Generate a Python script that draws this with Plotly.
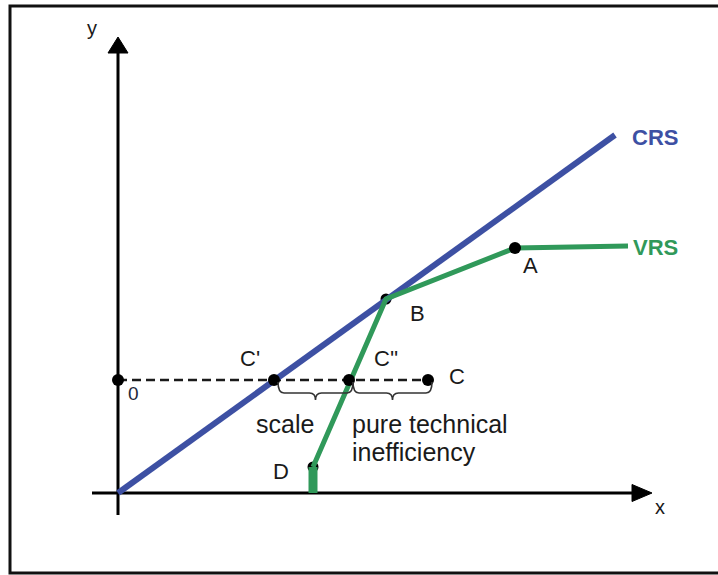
import plotly.graph_objects as go

# ---- data (conceptual units, origin at 0,0) ----
x_axis_span = [-2.6, 53.4]
y_axis_span = [-2.2, 45.6]

crs_x = [0.0, 49.7]
crs_y = [0.0, 35.8]

vrs_x = [19.5, 26.8, 39.7, 51.0]
vrs_y = [2.6, 19.4, 24.5, 24.7]

d_bar_x = [19.5, 19.5]
d_bar_y = [2.6, 0.0]

level_y = 11.3
level_names = ["0", "C'", "C''", "C"]
level_x = [0.0, 15.6, 23.1, 31.0]

frontier_names = ["A", "B", "D"]
frontier_x = [39.7, 26.8, 19.5]
frontier_y = [24.5, 19.4, 2.6]

BLUE = "#3d50a3"
GREEN = "#30995a"
INK = "#1a1a1a"
FONT = "Liberation Sans, Arial, sans-serif"

fig = go.Figure()

# dashed line from y-axis through C', C'' to C
fig.add_trace(go.Scatter(x=[level_x[0], level_x[-1]], y=[level_y, level_y], mode="lines",
                         line=dict(color=INK, width=2.5, dash="9px,5px"), hoverinfo="skip"))
# B and D dots (under lines)
fig.add_trace(go.Scatter(x=frontier_x[1:], y=frontier_y[1:], mode="markers",
                         marker=dict(color="black", size=11), hoverinfo="skip"))
# CRS
fig.add_trace(go.Scatter(x=crs_x, y=crs_y, mode="lines",
                         line=dict(color=BLUE, width=6), hoverinfo="skip"))
# VRS
fig.add_trace(go.Scatter(x=vrs_x, y=vrs_y, mode="lines",
                         line=dict(color=GREEN, width=5), hoverinfo="skip"))
fig.add_trace(go.Scatter(x=d_bar_x, y=d_bar_y, mode="lines",
                         line=dict(color=GREEN, width=9), hoverinfo="skip"))
# dots on top
fig.add_trace(go.Scatter(x=level_x, y=[level_y] * len(level_x), mode="markers",
                         marker=dict(color="black", size=12), hoverinfo="skip"))
fig.add_trace(go.Scatter(x=[frontier_x[0]], y=[frontier_y[0]], mode="markers",
                         marker=dict(color="black", size=12), hoverinfo="skip"))

shapes = []
# border
shapes.append(dict(type="rect", xref="paper", yref="paper", x0=10 / 718, x1=1.02,
                   y0=1 - 573 / 575, y1=1 - 6 / 575, line=dict(color="#111", width=3),
                   layer="below"))
# axes
shapes.append(dict(type="line", xref="x", yref="y", x0=x_axis_span[0], x1=x_axis_span[1] - 1.5,
                   y0=0, y1=0, line=dict(color="black", width=3), layer="below"))
shapes.append(dict(type="line", xref="x", yref="y", x0=0, x1=0,
                   y0=y_axis_span[0], y1=y_axis_span[1] - 1.2, line=dict(color="black", width=3),
                   layer="below"))
# arrow heads (pixel-sized, anchored at axis tips)
shapes.append(dict(type="path", xref="x", yref="y", xsizemode="pixel", ysizemode="pixel",
                   xanchor=0, yanchor=y_axis_span[1], path="M -10,-16 L 0,0 L 10,-16 Z",
                   fillcolor="black", line=dict(color="black", width=1)))
shapes.append(dict(type="path", xref="x", yref="y", xsizemode="pixel", ysizemode="pixel",
                   xanchor=x_axis_span[1], yanchor=0, path="M -20,8.5 L 0,0 L -20,-8.5 Z",
                   fillcolor="black", line=dict(color="black", width=1)))


# braces under the dashed line between consecutive level points
def brace(xa, xb, ytop, ymid, ytip):
    xm = (xa + xb) / 2
    return (f"M {xa},{ytop} Q {xa},{ymid} {xa + 0.6},{ymid} L {xm - 0.6},{ymid} "
            f"Q {xm},{ymid} {xm},{ytip} Q {xm},{ymid} {xm + 0.6},{ymid} "
            f"L {xb - 0.6},{ymid} Q {xb},{ymid} {xb},{ytop}")


for xa, xb in [(level_x[1], level_x[2]), (level_x[2], level_x[3])]:
    shapes.append(dict(type="path", xref="x", yref="y",
                       path=brace(xa + 0.4, xb + 0.4, level_y - 0.2, level_y - 1.3, level_y - 2.0),
                       line=dict(color="#333", width=1.6)))

annotations = []


def label(text, x, y, dx, dy, size=22, color=INK, xanchor="center", bold=False):
    annotations.append(dict(text=text, x=x, y=y, xref="x", yref="y", showarrow=False,
                            xshift=dx, yshift=dy, xanchor=xanchor, yanchor="middle",
                            font=dict(family=FONT, size=size, color=color,
                                      weight="bold" if bold else "normal")))


label("y", 0, y_axis_span[1], -26, 9, size=20)
label("x", x_axis_span[1], 0, 8, -14, size=20)
label("0", level_x[0], level_y, 15, -13, size=19, color="#22283a")
label("C'", level_x[1], level_y, -24, 22)
label("C''", level_x[2], level_y, 37, 22)
label("C", level_x[3], level_y, 29, 4)
label("A", frontier_x[0], frontier_y[0], 15, -17)
label("B", frontier_x[1], frontier_y[1], 31, -14)
label("D", frontier_x[2], frontier_y[2], -32, -4)
label("CRS", crs_x[1], crs_y[1], 15, -2, color=BLUE, xanchor="left", bold=True)
label("VRS", vrs_x[-1], vrs_y[-1], 3, -1, color=GREEN, xanchor="left", bold=True)
label("scale", (level_x[1] + level_x[2]) / 2, level_y, -27, -44, size=25)
label("pure technical", level_x[2], level_y, 1, -44, size=25, xanchor="left")
label("inefficiency", level_x[2], level_y, 1, -72, size=25, xanchor="left")

fig.update_layout(
    width=718, height=575,
    margin=dict(l=0, r=0, t=0, b=0),
    paper_bgcolor="white", plot_bgcolor="white",
    showlegend=False,
    xaxis=dict(range=[-11.8, 60.0], visible=False, fixedrange=True),
    yaxis=dict(range=[-8.2, 49.3], visible=False, fixedrange=True),
    shapes=shapes, annotations=annotations,
)

fig.write_html("out.html", config={"displayModeBar": False},
               post_script="document.body.style.margin='0';")
